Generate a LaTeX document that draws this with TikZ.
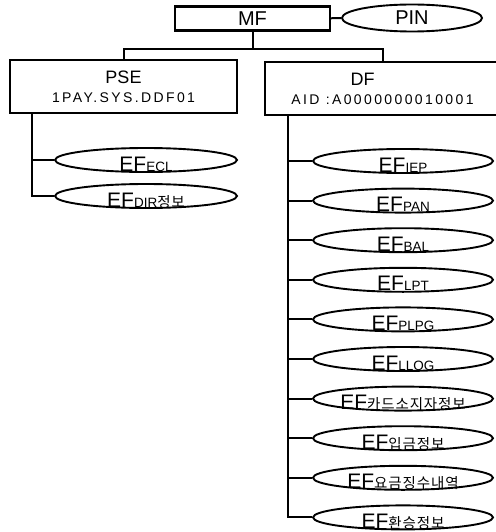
\documentclass[tikz,border=0pt]{standalone}
\usepackage{fontspec}
\setmainfont{Liberation Sans}
\newfontfamily\krfont[LetterSpace=6]{Noto Sans CJK KR}
\newfontfamily\spfont[LetterSpace=17]{Liberation Sans}
\usetikzlibrary{shapes.geometric,positioning}

% text sits low in the ellipses, as in the reference
\newcommand{\lowtext}[2]{\raisebox{-#1}[0pt][0pt]{#2}}
\newcommand{\efname}[1]{\lowtext{11pt}{\fontsize{21}{21}\selectfont EF\fontsize{13.5}{13.5}\selectfont #1}}
\newcommand{\krsub}[1]{{\krfont\fontsize{14.5}{14.5}\selectfont #1}}

\begin{document}
\begin{tikzpicture}[x=1pt,y=-1pt,
   box/.style={draw,line width=2.3pt,inner sep=0pt,align=center},
   file/.style={draw,ellipse,line width=1.9pt,minimum width=180pt,minimum height=24pt,inner sep=0pt},
   tree/.style={line width=2pt}
  ]
  \useasboundingbox (0,0) rectangle (495,532);

  % root
  \node[box,minimum width=155pt,minimum height=24pt] (mf) at (252.5,18.5)
    {\lowtext{7pt}{\fontsize{20}{20}\selectfont MF}};
  \node[file,minimum width=140pt,minimum height=27pt] (pin) at (412,18)
    {\lowtext{7pt}{\fontsize{20}{20}\selectfont PIN}};

  % directories
  \node[box,minimum width=227pt,minimum height=53pt,font=\fontsize{14}{19}\selectfont] (pse) at (123.5,86.5)
    {{\fontsize{18}{18}\selectfont PSE}\\{\spfont 1PAY.SYS.DDF01}};
  \node[box,minimum width=235pt,minimum height=53pt,font=\fontsize{14}{19}\selectfont] (df) at (382.5,88.5)
    {{\fontsize{18}{18}\selectfont DF}\hspace*{40pt}\\{\spfont AID :A0000000010001}};

  \coordinate (fork) at ([yshift=-17pt]mf.south);
  \coordinate (psetop) at ([xshift=23pt]pse.south west);
  \coordinate (dftop) at ([xshift=24pt]df.south west);

  \draw[tree] (mf) -- (pin);
  \draw[tree] (mf.south) -- (fork);
  \draw[tree] (pse.north) |- (fork) -| (df.north);

  % PSE files
  \node[file,minimum width=182pt] (ecl) at (146,160) {\efname{ECL}};
  \node[file,minimum width=182pt] (dir) at (146,196) {\efname{DIR\krsub{정보}}};
  \draw[tree] (psetop) |- (ecl.west);
  \draw[tree] (psetop) |- (dir.west);

  % DF files
  \foreach \i/\s in {1/IEP,2/PAN,3/BAL,4/LPT,5/PLPG,6/LLOG,
      7/{\krsub{카드소지자정보}},8/{\krsub{입금정보}},
      9/{\krsub{요금징수내역}},10/{\krsub{환승정보}}} {
    \node[file] (ef\i) at (403,{161+39.6*(\i-1)}) {\efname{\s}};
    \draw[tree] (dftop) |- (ef\i.west);
  }
\end{tikzpicture}
\end{document}
